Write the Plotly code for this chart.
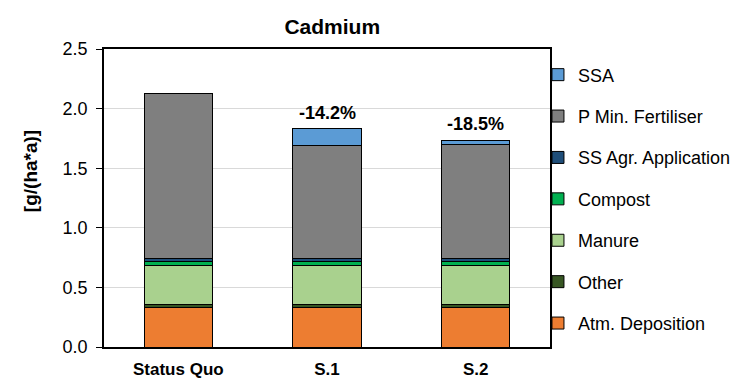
import plotly.graph_objects as go

scenarios = ["Status Quo", "S.1", "S.2"]

# stack order, bottom to top
sources = ["Atm. Deposition", "Other", "Manure", "Compost",
           "SS Agr. Application", "P Min. Fertiliser", "SSA"]

atm_deposition = [0.335, 0.335, 0.335]
other          = [0.025, 0.025, 0.025]
manure         = [0.325, 0.325, 0.325]
compost        = [0.03, 0.03, 0.03]
ss_agr         = [0.03, 0.03, 0.03]
p_min_fert     = [1.385, 0.945, 0.955]
ssa            = [0.0, 0.14, 0.035]

changes = ["", "-14.2%", "-18.5%"]

cs = {
    "Atm. Deposition"     : "#ED7D31",
    "Other"               : "#375623",
    "Manure"              : "#A9D18E",
    "Compost"             : "#00B050",
    "SS Agr. Application" : "#1F4E79",
    "P Min. Fertiliser"   : "#7F7F7F",
    "SSA"                 : "#5B9BD5",
}

values = [atm_deposition, other, manure, compost, ss_agr, p_min_fert, ssa]

fig = go.Figure()
for i, (name, vals) in enumerate(zip(sources, values)):
    fig.add_trace(go.Bar(
        x=scenarios, y=vals, name=name, legendgroup=name,
        legendrank=100 - i,  # top of stack first in legend
        marker=dict(color=cs[name], line=dict(color="#000000", width=1)),
    ))

totals = [sum(v[i] for v in values) for i in range(len(scenarios))]
for i, txt in enumerate(changes):
    if txt:
        fig.add_annotation(x=scenarios[i], y=totals[i], text="<b>" + txt + "</b>",
                           showarrow=False, yanchor="bottom", yshift=4,
                           font=dict(size=18, color="#000000"))

# y axis title sits above the plot centre, as in the original
fig.add_annotation(xref="paper", yref="paper", x=-0.166, y=0.59,
                   text="<b>[g/(ha*a)]</b>", textangle=-90, showarrow=False,
                   xanchor="center", yanchor="middle", font=dict(size=19))

# page body adds 8px offset, so the figure is a bit smaller than the window
fig.update_layout(
    width=732, height=373,
    barmode="stack", bargap=0.54,
    plot_bgcolor="white", paper_bgcolor="white",
    font=dict(family="Liberation Sans, Arial, sans-serif", size=18, color="#000000"),
    margin=dict(l=96, r=190, t=41, b=34, autoexpand=False),
    title=dict(text="<b>Cadmium</b>", x=0.443, xanchor="center",
               y=0.949, yanchor="middle", font=dict(size=21)),
    showlegend=True,
    legend=dict(x=0.973, xanchor="left", y=0.975, yanchor="top",
                traceorder="grouped", tracegroupgap=15,
                font=dict(size=18), bgcolor="rgba(0,0,0,0)"),
    yaxis=dict(range=[0, 2.5], dtick=0.5, tickformat=".1f",
               showgrid=True, gridcolor="#D9D9D9", gridwidth=1,
               showline=True, linecolor="#000000", linewidth=1.5, mirror=True,
               ticks="outside", ticklen=6, tickcolor="#000000",
               ticklabelstandoff=5,
               zeroline=False, automargin=False),
    xaxis=dict(showline=True, linecolor="#000000", linewidth=1.5, mirror=True,
               tickfont=dict(size=17), ticks="", ticklabelstandoff=6,
               automargin=False,
               tickvals=scenarios, ticktext=["<b>" + s + "</b>" for s in scenarios]),
)

fig.write_html("out.html")
